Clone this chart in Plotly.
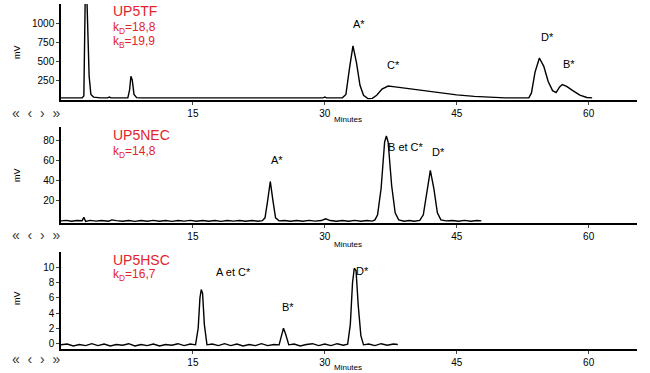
import plotly.graph_objects as go

# ---------------- data ----------------
# Panel 1 : UP5TF
t_tf = [0, 2.4, 2.6, 2.75, 2.95, 3.05, 3.2, 3.4, 3.7, 4.5, 5.3, 5.5, 5.7, 7.6, 7.8, 7.95, 8.1, 8.3, 8.6,
        9.0, 12.0, 12.2, 12.4, 29.8, 30.0, 30.2, 32.0, 32.4, 32.8, 33.2, 33.6, 34.0, 34.4, 34.9, 35.4,
        35.9, 36.5, 37.2, 38.0, 39.0, 41.0, 43.0, 45.0, 47.0, 49.0, 50.5, 52.0, 53.2, 53.5, 53.9, 54.4,
        54.9, 55.4, 55.9, 56.3, 56.7, 57.0, 57.5, 58.2, 59.0, 59.8, 60.4]
mv_tf = [15, 15, 40, 1300, 1300, 700, 300, 60, 25, 15, 15, 25, 15, 15, 120, 300, 250, 60, 18,
         15, 15, 22, 15, 15, 25, 15, 15, 60, 400, 700, 480, 180, 50, 5, 8,
         50, 130, 170, 160, 145, 110, 78, 55, 35, 20, 15, 15, 15, 80, 350, 540,
         430, 230, 110, 85, 160, 190, 165, 110, 50, 20, 15]

# Panel 2 : UP5NEC
t_nec = [0, 0.6, 1.2, 1.8, 2.4, 2.6, 2.8, 3.3, 4.0, 4.6, 5.4, 5.8, 6.3, 7.0, 7.7, 8.4, 9.1, 9.8, 10.5,
         11.2, 11.9, 12.6, 13.3, 14.0, 14.7, 15.4, 16.1, 16.8, 17.5, 18.2, 18.9, 19.6, 20.3, 21.0,
         21.7, 22.4, 22.9, 23.2, 23.5, 23.8, 24.1, 24.4, 24.8, 25.4, 26.1, 26.8, 27.5, 28.2, 28.9,
         29.6, 30.1, 30.6, 31.3, 32.0, 32.7, 33.4, 34.1, 34.8, 35.4, 35.7, 36.0, 36.4, 36.8, 37.0,
         37.2, 37.6, 38.0, 38.4, 39.0, 39.6, 40.2, 40.8, 41.2, 41.6, 42.0, 42.4, 42.8, 43.2, 43.8,
         44.5, 45.2, 45.9, 46.6, 47.3, 47.8]
mv_nec = [0, 0.5, -0.3, 0.4, 0.2, 3.5, -0.5, 0.5, -0.2, 0.4, -0.3, 1.0, 0.2, -0.4, 0.3, -0.5, 0.4, -0.3, 0.5,
          -0.4, 0.3, -0.5, 0.4, -0.2, 0.5, -0.4, 0.3, -0.3, 0.4, -0.5, 0.3, -0.2, 0.4, -0.4,
          0.3, -0.3, 0.2, 3, 20, 39, 20, 3, 0, 0.4, -0.4, 0.3, -0.3, 0.5, -0.2,
          0.3, 2, 0.3, -0.4, 0.4, -0.3, 0.5, -0.4, 0.3, -0.2, 1, 6, 32, 78, 84,
          78, 35, 8, 1, -0.3, 0.4, -0.3, 0.5, 6, 30, 50, 32, 8, 1, 0,
          0.4, -0.3, 0.5, -0.4, 0.3, 0]

# Panel 3 : UP5HSC
t_hsc = [0, 0.7, 1.4, 2.1, 2.8, 3.5, 4.2, 4.9, 5.6, 6.3, 7.0, 7.7, 8.4, 9.1, 9.8, 10.5, 11.2, 11.9,
         12.6, 13.3, 14.0, 14.7, 15.3, 15.6, 15.8, 15.95, 16.1, 16.3, 16.6, 17.2, 17.9, 18.6, 19.3,
         20.0, 20.7, 21.4, 22.1, 22.8, 23.5, 24.2, 24.8, 25.05, 25.3, 25.55, 25.9, 26.5, 27.2, 27.9,
         28.6, 29.3, 30.0, 30.7, 31.4, 32.1, 32.6, 32.9, 33.15, 33.35, 33.55, 33.8, 34.1, 34.4, 35.0,
         35.7, 36.4, 37.1, 37.8, 38.3]
mv_hsc = [-0.2, -0.1, -0.35, -0.15, -0.3, -0.05, -0.3, -0.1, -0.35, -0.15, -0.25, -0.05, -0.35, -0.15, -0.3, -0.1, -0.35, -0.15,
          -0.25, -0.05, -0.3, -0.1, -0.2, 2.0, 6.0, 7.1, 6.6, 2.5, -0.2, -0.1, -0.3, -0.05, -0.3,
          -0.1, -0.35, -0.15, -0.3, -0.05, -0.3, -0.15, -0.2, 1.0, 2.0, 1.2, -0.2, -0.1, -0.35, -0.15,
          -0.05, -0.3, -0.1, -0.3, -0.05, -0.25, -0.1, 2.5, 8.0, 9.9, 9.6, 5.0, 1.0, -0.2, -0.1,
          -0.3, -0.05, -0.25, -0.1, -0.15]

x_tickvals = [15, 30, 45, 60]
y1_ticks = [250, 500, 750, 1000]
y2_ticks = [20, 40, 60, 80]
y3_ticks = [0, 2, 4, 6, 8, 10]

names = ["UP5TF", "UP5NEC", "UP5HSC"]
k_texts = [["k<sub>D</sub>=18,8", "k<sub>B</sub>=19,9"], ["k<sub>D</sub>=14,8"], ["k<sub>D</sub>=16,7"]]
peak_labels = [["A*", "C*", "D*", "B*"], ["A*", "B et C*", "D*"], ["A et C*", "B*", "D*"]]

# ---------------- layout ----------------
W, H = 650, 373
def px(x): return x / W
def py(y): return 1 - y / H

RED = "#e3242b"
FONT = "Liberation Sans, Arial, sans-serif"

fig = go.Figure()
series = [(t_tf, mv_tf), (t_nec, mv_nec), (t_hsc, mv_hsc)]
panels = [  # (top px, bottom px, y range, y ticks)
    (4, 100, [-13, 1250], y1_ticks),
    (127, 223, [-2.1, 92.9], y2_ticks),
    (252, 349, [-0.75, 12.05], y3_ticks),
]
for i, (t, v) in enumerate(series):
    fig.add_trace(go.Scatter(x=t, y=v, mode="lines", line=dict(color="black", width=1.4),
                             xaxis=f"x{i+1}" if i else "x", yaxis=f"y{i+1}" if i else "y",
                             showlegend=False, hoverinfo="skip"))

layout = dict(width=W, height=H, margin=dict(l=0, r=0, t=0, b=0),
              paper_bgcolor="white", plot_bgcolor="white",
              font=dict(family=FONT, size=10, color="black"))
for i, (top, bot, yr, yt) in enumerate(panels):
    xk = "xaxis" if i == 0 else f"xaxis{i+1}"
    yk = "yaxis" if i == 0 else f"yaxis{i+1}"
    xa = "x" if i == 0 else f"x{i+1}"
    ya = "y" if i == 0 else f"y{i+1}"
    layout[xk] = dict(domain=[px(61), px(637)], range=[0, 65.5], anchor=ya,
                      tickvals=x_tickvals, ticks="outside", ticklen=3, tickwidth=1,
                      showline=True, linecolor="black", linewidth=1.5, showgrid=False,
                      zeroline=False, tickfont=dict(size=10), fixedrange=True)
    layout[yk] = dict(domain=[py(bot), py(top)], range=yr, anchor=xa,
                      tickvals=yt, ticks="outside", ticklen=3, tickwidth=1,
                      showline=True, linecolor="black", linewidth=1.5, showgrid=False,
                      zeroline=False, tickfont=dict(size=10), fixedrange=True)
fig.update_layout(**layout)

ann = []
def text(x, y, s, size=11, color="black", xanchor="center", angle=0):
    ann.append(dict(x=px(x), y=py(y), xref="paper", yref="paper", text=s, showarrow=False,
                    xanchor=xanchor, yanchor="middle", textangle=angle,
                    font=dict(size=size, color=color, family=FONT)))

# panel titles and k values
title_y = [(11, [28, 42]), (135, [152]), (260, [275])]
for name, ks, (ty, kys) in zip(names, k_texts, title_y):
    text(111, ty, name, size=14, color=RED, xanchor="left")
    for k, ky in zip(ks, kys):
        text(111, ky, k, size=12, color=RED, xanchor="left")

# peak labels
peak_pos = [[(359, 24), (393, 65), (547, 37), (569, 64)],
            [(277, 160), (406, 147), (438, 152)],
            [(233, 272), (288, 307), (362, 271)]]
for labs, poss in zip(peak_labels, peak_pos):
    for lab, (x, y) in zip(labs, poss):
        text(x, y, lab, size=11)

# mV, minutes, navigation arrows
for my, mny, navy in [(52, 119, 113), (175, 244, 235), (298, 367, 359)]:
    text(17, my, "mV", size=9, angle=-90)
    text(348, mny, "Minutes", size=8)
    text(36, navy, "«  ‹  ›  »", size=14, color="#333333")

fig.update_layout(annotations=ann)
fig.write_html("out.html", config={"displayModeBar": False},
               post_script="document.body.style.margin='0';")
